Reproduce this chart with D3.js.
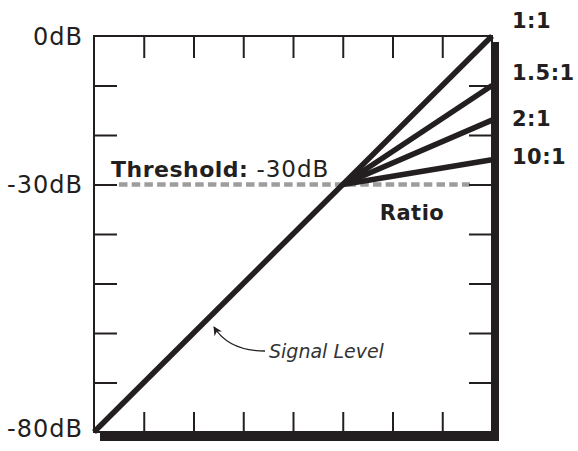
<!DOCTYPE html>
<html>
<head>
<meta charset="utf-8">
<script src="https://cdn.jsdelivr.net/npm/d3@7"></script>
<style>
  html, body { margin: 0; padding: 0; background: #fff; }
  svg { display: block; font-family: "DejaVu Sans", sans-serif; }
</style>
</head>
<body>
<svg id="chart" width="578" height="451"></svg>
<script>
// ---- data ----
const signalInputDb = [-80, 0];               // straight signal (1:1) line ends
const thresholdDb = -30;
const ratioLabels = ["1:1", "1.5:1", "2:1", "10:1"];
const ratioOutputAt0dB = [0, -10, -17, -25];
const gridTicks = [-70, -60, -50, -40, -30, -20, -10];
const levelTicks = [0, -30, -80];
const levelTickLabels = ["0dB", "-30dB", "-80dB"];
const thresholdLabel = "Threshold:";
const thresholdValueLabel = "-30dB";
const ratioTitle = "Ratio";
const signalLabel = "Signal Level";

// ---- layout ----
const svg = d3.select("#chart");
const x0 = 94, x1 = 492, y0 = 36, y1 = 432;
const x = d3.scaleLinear().domain([-80, 0]).range([x0, x1]);
const y = d3.scaleLinear().domain([-80, 0]).range([y1, y0]);
const tickLen = 22;

// shadow
svg.append("rect").attr("x", x0 + 6).attr("y", y0 + 6)
  .attr("width", x1 - x0 + 1).attr("height", y1 - y0 + 3).attr("fill", "#231f20");
// frame
svg.append("rect").attr("x", x0).attr("y", y0)
  .attr("width", x1 - x0).attr("height", y1 - y0)
  .attr("fill", "#fff").attr("stroke", "#231f20").attr("stroke-width", 2);

// threshold dashed line
svg.append("line")
  .attr("x1", x0 + tickLen + 3).attr("x2", x1 - tickLen)
  .attr("y1", y(thresholdDb)).attr("y2", y(thresholdDb))
  .attr("stroke", "#9d9d9d").attr("stroke-width", 4.5)
  .attr("stroke-dasharray", "8.5,4.2");

// tick axes (inward)
function styleAxis(g) {
  g.select(".domain").remove();
  g.selectAll(".tick line").attr("stroke", "#231f20").attr("stroke-width", 2);
  g.selectAll(".tick text").remove();
}
svg.append("g").attr("transform", `translate(0,${y0})`)
  .call(d3.axisTop(x).tickValues(gridTicks).tickSize(-tickLen)).call(styleAxis);
svg.append("g").attr("transform", `translate(0,${y1})`)
  .call(d3.axisBottom(x).tickValues(gridTicks).tickSize(-tickLen + 2)).call(styleAxis);
svg.append("g").attr("transform", `translate(${x0},0)`)
  .call(d3.axisLeft(y).tickValues(gridTicks).tickSize(-tickLen - 1)).call(styleAxis);
svg.append("g").attr("transform", `translate(${x1},0)`)
  .call(d3.axisRight(y).tickValues(gridTicks).tickSize(-tickLen - 1)).call(styleAxis);

// level labels on left
svg.append("g").attr("transform", `translate(${x0},0)`)
  .call(d3.axisLeft(y).tickValues(levelTicks).tickSize(0).tickPadding(11)
    .tickFormat((d, i) => levelTickLabels[i]))
  .call(g => g.select(".domain").remove())
  .call(g => g.selectAll("text")
    .attr("font-size", 24).attr("letter-spacing", 1).attr("fill", "#231f20")
    .attr("font-family", "DejaVu Sans, sans-serif")
    .attr("dy", (d) => d === -80 ? "0.2em" : "0.34em"));

// ratio lines (from threshold knee to 0 dB input)
const line = d3.line().x(d => x(d[0])).y(d => y(d[1]));
ratioOutputAt0dB.forEach((v, i) => {
  if (i === 0) return;
  svg.append("path")
    .datum([[thresholdDb, thresholdDb], [0, v]])
    .attr("d", line)
    .attr("fill", "none").attr("stroke", "#231f20")
    .attr("stroke-width", 5.5).attr("stroke-linecap", "butt");
});
// signal line 1:1
svg.append("path")
  .datum(signalInputDb.map(d => [d, d]))
  .attr("d", line)
  .attr("fill", "none").attr("stroke", "#231f20").attr("stroke-width", 5.5);

// ratio labels
const labelNudge = [-16, -13, -2, -3];
svg.selectAll("text.ratio").data(ratioLabels).join("text")
  .attr("class", "ratio")
  .attr("x", x1 + 20)
  .attr("y", (d, i) => y(ratioOutputAt0dB[i]) + labelNudge[i])
  .attr("dy", "0.36em")
  .attr("font-size", 21).attr("letter-spacing", 0.5).attr("font-weight", "bold").attr("fill", "#231f20")
  .text(d => d);

// threshold label
const tl = svg.append("text").attr("x", x0 + 17).attr("y", y(thresholdDb) - 8)
  .attr("font-size", 22).attr("fill", "#231f20");
tl.append("tspan").attr("font-weight", "bold").attr("letter-spacing", 0.5).text(thresholdLabel);
tl.append("tspan").attr("dx", 8).attr("font-size", 23).attr("letter-spacing", 1).text(thresholdValueLabel);

// Ratio title
svg.append("text").attr("x", x(-30) + 37).attr("y", y(thresholdDb) + 35)
  .attr("font-size", 21).attr("letter-spacing", 0.5).attr("font-weight", "bold").attr("fill", "#231f20")
  .text(ratioTitle);

// signal level annotation
svg.append("defs").append("marker")
  .attr("id", "ah").attr("viewBox", "0 0 10 10").attr("refX", 9).attr("refY", 5)
  .attr("markerWidth", 9).attr("markerHeight", 9).attr("orient", "auto")
  .attr("markerUnits", "userSpaceOnUse")
  .append("path").attr("d", "M0,0 L10,5 L0,10 L3,5 Z").attr("fill", "#231f20");
svg.append("path")
  .attr("d", "M265,351 Q229,351 214,327")
  .attr("fill", "none").attr("stroke", "#231f20").attr("stroke-width", 1.4)
  .attr("marker-end", "url(#ah)");
svg.append("text").attr("x", 269).attr("y", 358)
  .attr("font-size", 19).attr("font-style", "italic").attr("font-weight", 300)
  .attr("fill", "#333").text(signalLabel);
</script>
</body>
</html>
